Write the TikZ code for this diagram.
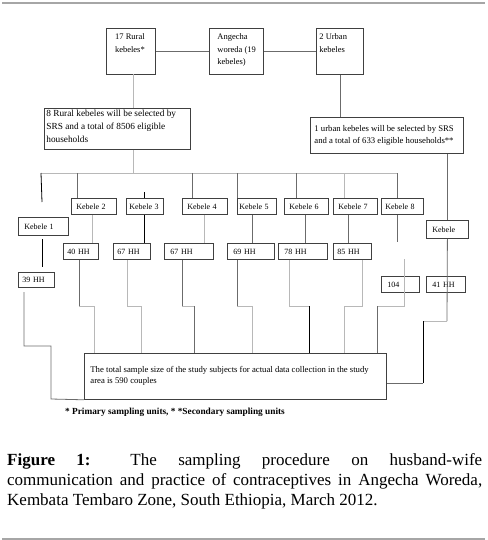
\documentclass[tikz,border=0pt]{standalone}
\usepackage{fontspec}
\setmainfont{Liberation Serif}
\usetikzlibrary{calc}
\definecolor{boxc}{gray}{0.25}
\definecolor{lgc}{gray}{0.72}
\definecolor{mgc}{gray}{0.42}
\definecolor{framec}{gray}{0.65}
\tikzset{
  box/.style={draw=boxc, line width=0.8pt, anchor=north west, inner sep=0pt, align=left,
              font=\fontsize{8.5}{12.5}\selectfont},
  sbox/.style={draw=boxc, line width=0.8pt, anchor=north west, inner xsep=5pt, inner ysep=0pt,
              align=left, font=\fontsize{8}{10}\selectfont},
  lg/.style={draw=lgc, line width=0.9pt},
  mg/.style={draw=mgc, line width=0.8pt},
  dk/.style={draw=black, line width=0.8pt},
}
\newcommand\tbx[5]{\parbox[c][#2pt][t]{#1pt}{\vspace{#5pt}\hspace*{#3pt}\parbox[t]{\dimexpr#1pt-#3pt-2pt}{#4}}}
\begin{document}
\begin{tikzpicture}[x=1pt,y=-1pt]
\useasboundingbox (0,0) rectangle (487,540);
% frame lines
\draw[framec, line width=1.3pt] (2,3) -- (485,3);
\draw[framec, line width=1.3pt] (2,539) -- (485,539);

% top boxes
\node[box] (r17) at (106,28) {\tbx{49}{46}{0}{\centering 17 Rural\\ kebeles*}{5.5}};
\node[box] (ang) at (209,28) {\tbx{54}{46}{8}{Angecha\\ woreda (19\\ kebeles)}{5.5}};
\node[box] (u2) at (316,28) {\tbx{47}{46}{3}{2 Urban\\ kebeles}{5.5}};
\node[box, font=\fontsize{9.3}{13}\selectfont] (r8) at (44,108) {\tbx{146}{41}{2}{8 Rural kebeles will be selected by\\ SRS and a total of 8506 eligible\\ households}{2}};
\node[box, font=\fontsize{8.7}{11.5}\selectfont] (u1) at (310,117) {\parbox[c][36pt][c]{153pt}{\hspace*{4pt}\parbox{148pt}{1 urban kebeles will be selected by SRS\\ and a total of 633 eligible households**}}};

% kebele boxes
\node[sbox, minimum width=45pt, minimum height=16pt, text width=35pt] (k2) at (71,198) {Kebele 2};
\node[sbox, minimum width=37pt, minimum height=16pt, text width=31pt, inner xsep=3pt] (k3) at (126,198) {Kebele 3};
\node[sbox, minimum width=45pt, minimum height=16pt, text width=35pt] (k4) at (182,198) {Kebele 4};
\node[sbox, minimum width=39pt, minimum height=16pt, text width=35pt, inner xsep=2pt] (k5) at (237,198) {Kebele 5};
\node[sbox, minimum width=44pt, minimum height=16pt, text width=34pt] (k6) at (284,198) {Kebele 6};
\node[sbox, minimum width=44pt, minimum height=16pt, text width=34pt] (k7) at (333,198) {Kebele 7};
\node[sbox, minimum width=42pt, minimum height=16pt, text width=34pt, inner xsep=4pt] (k8) at (381,198) {Kebele 8};
\node[sbox, minimum width=50pt, minimum height=18pt, text width=38pt, inner xsep=6pt] (k1) at (18,217) {Kebele 1};
\node[sbox, minimum width=42pt, minimum height=18pt, text width=30pt, inner xsep=6pt] (kU) at (426,220) {Kebele};

% HH boxes
\node[sbox, minimum width=35pt, minimum height=16pt, text width=27pt, inner xsep=4pt] (h2) at (63,243) {40 HH};
\node[sbox, minimum width=37pt, minimum height=16pt, text width=29pt, inner xsep=4pt] (h3) at (113,243) {67 HH};
\node[sbox, minimum width=49pt, minimum height=16pt, text width=37pt, inner xsep=6pt] (h4) at (164,243) {67 HH};
\node[sbox, minimum width=47pt, minimum height=16pt, text width=35pt, inner xsep=6pt] (h5) at (227,243) {69 HH};
\node[sbox, minimum width=49pt, minimum height=16pt, text width=37pt, inner xsep=6pt] (h6) at (278,243) {78 HH};
\node[sbox, minimum width=38pt, minimum height=16pt, text width=30pt, inner xsep=4pt] (h7) at (333,243) {85 HH};
\node[sbox, minimum width=36pt, minimum height=15pt, text width=28pt, inner xsep=4pt] (h1) at (18,272) {39 HH};
\node[sbox, minimum width=38pt, minimum height=16pt, text width=26pt, inner xsep=6pt] (h8) at (381,276) {104};
\node[sbox, minimum width=39pt, minimum height=16pt, text width=27pt, inner xsep=6pt] (hU) at (426,276) {41 HH};

% total box
\node[box, font=\fontsize{8.7}{10.5}\selectfont] (total) at (84,353) {\parbox[c][46pt][t]{302pt}{\vspace{13pt}\hspace*{6pt}\parbox[t]{294pt}{The total sample size of the study subjects for actual data collection in the study\\ area is 590 couples}}};

% connectors top
\draw[mg] (r17.east) -- (ang.west);
\draw[mg] (ang.east) -- (u2.west);
\coordinate (v1) at (133,74);
\draw[lg] (v1) -- (v1 |- r8.north);
\coordinate (busL) at (41,173);
\coordinate (busR) at (397,173);
\coordinate (b0) at (133,173);
\draw[lg] (b0 |- r8.south) -- (b0);
\draw[lg] (busL) -- (busR);
\draw[mg] (u2.south) -- (u2.south |- u1.north);

% drops from bus
\coordinate (d1) at (42,202);
\draw[dk] (busL) -- (d1);
\coordinate (b2) at (77,173);   \draw[mg] (b2) -- (b2 |- k2.north);
\coordinate (s3) at (144,192);  \draw[dk] (s3) -- (s3 |- k3.north);
\coordinate (b4) at (192,173);  \draw[mg] (b4) -- (b4 |- k4.north);
\coordinate (b5) at (237,173);  \draw[mg] (b5) -- (b5 |- k5.north);
\coordinate (b6) at (296,173);  \draw[mg] (b6) -- (b6 |- k6.north);
\coordinate (b7) at (344,173);  \draw[lg] (b7) -- (b7 |- k7.north);
\draw[mg] (busR) -- (busR |- k8.north);

% kebele -> HH
\coordinate (k1a) at (42,239); \coordinate (k1b) at (42,267);
\draw[dk] (k1a) -- (k1b);
\coordinate (c2) at (92,0);  \draw[lg] (c2 |- k2.south) -- (c2 |- h2.north);
\coordinate (c3) at (144,0); \draw[dk] (c3 |- k3.south) -- (c3 |- h3.north);
\coordinate (c4) at (204,0); \draw[lg] (c4 |- k4.south) -- (c4 |- h4.north);
\coordinate (c5) at (252,0); \draw[mg] (c5 |- k5.south) -- (c5 |- h5.north);
\coordinate (c6) at (305,0); \draw[mg] (c6 |- k6.south) -- (c6 |- h6.north);
\coordinate (c7) at (348,0); \draw[mg] (c7 |- k7.south) -- (c7 |- h7.north);
\coordinate (k8e) at (397,242); \draw[mg] (busR |- k8.south) -- (k8e);

% HH -> total
\coordinate (j1a) at (24,292); \coordinate (j1b) at (24,346); \coordinate (j1c) at (51,346); \coordinate (j1d) at (51,399);
\draw[mg] (j1a) -- (j1b) -- (j1c) -- (j1d) -- (total.south west);
\coordinate (j2a) at (79,306); \coordinate (j2b) at (94,306);
\draw[mg] (j2a |- h2.south) -- (j2a); \draw[lg] (j2a) -- (j2b) -- (j2b |- total.north);
\coordinate (j3a) at (127,306); \coordinate (j3b) at (141,306);
\draw[lg] (j3a |- h3.south) -- (j3a) -- (j3b) -- (j3b |- total.north);
\coordinate (j4a) at (182,306); \coordinate (j4b) at (194,306);
\draw[mg] (j4a |- h4.south) -- (j4a); \draw[lg] (j4a) -- (j4b); \draw[mg] (j4b) -- (j4b |- total.north);
\coordinate (j5a) at (237,306); \coordinate (j5b) at (252,306);
\draw[mg] (j5a |- h5.south) -- (j5a); \draw[lg] (j5a) -- (j5b) -- (j5b |- total.north);
\coordinate (j6a) at (289,306); \coordinate (j6b) at (309,306);
\draw[lg] (j6a |- h6.south) -- (j6a) -- (j6b); \draw[dk] (j6b) -- (j6b |- total.north);
\coordinate (j7a) at (362,306); \coordinate (j7b) at (344,306);
\draw[lg] (j7a |- h7.south) -- (j7a) -- (j7b) -- (j7b |- total.north);
\coordinate (t8) at (404,259); \coordinate (j8a) at (404,306); \coordinate (j8b) at (377,306);
\draw[lg] (t8) -- (j8a) -- (j8b); \draw[mg] (j8b) -- (j8b |- total.north);

% urban kebele route
\draw[mg] (u1.south -| kU.north) -- (kU.north);
\coordinate (cU1) at (447,321); \coordinate (cU2) at (423,321); \coordinate (cU3) at (423,383);
\draw[mg] (kU.south) -- (cU1);
\draw[lg] (cU1) -- (cU2);
\draw[dk] (cU2) -- (cU3);
\draw[mg] (cU3) -- (cU3 -| total.east);

% footnote
\node[anchor=base west, inner sep=0pt, font=\fontsize{9.3}{10}\selectfont\bfseries] (fn) at (65,414)
  {* Primary sampling units, * *Secondary sampling units};

% caption
\node[anchor=base west, inner sep=0pt, font=\fontsize{17}{20}\selectfont] (cap) at (7,465)
  {\parbox[t]{475pt}{\textbf{Figure 1:} The sampling procedure on husband-wife\linebreak
   communication and practice of contraceptives in Angecha Woreda,\linebreak
   Kembata Tembaro Zone, South Ethiopia, March 2012.}};
\end{tikzpicture}
\end{document}
